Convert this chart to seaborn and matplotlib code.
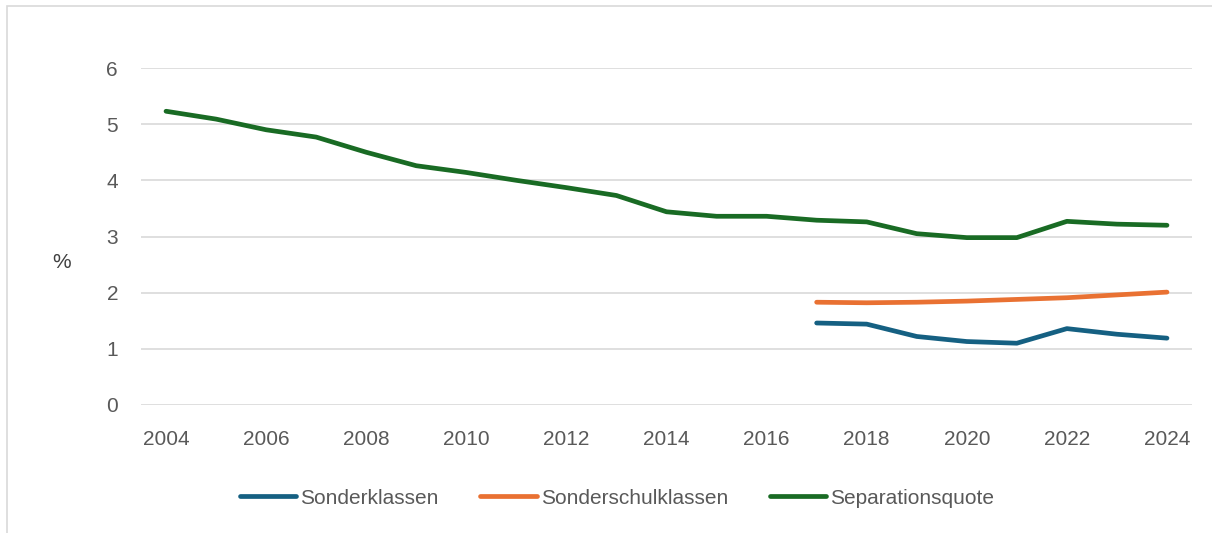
import matplotlib
matplotlib.use("Agg")
import matplotlib.pyplot as plt
import seaborn as sns
import pandas as pd
from matplotlib.patches import Rectangle
from matplotlib.lines import Line2D

years_sep = list(range(2004, 2025))
separationsquote = [5.23, 5.09, 4.90, 4.77, 4.50, 4.26, 4.14, 4.00, 3.87, 3.73, 3.44,
                    3.36, 3.36, 3.29, 3.26, 3.05, 2.98, 2.98, 3.27, 3.22, 3.20]
years_sub = list(range(2017, 2025))
sonderschulklassen = [1.83, 1.82, 1.83, 1.85, 1.88, 1.91, 1.96, 2.01]
sonderklassen = [1.46, 1.44, 1.22, 1.13, 1.10, 1.36, 1.26, 1.19]

series_names = ["Sonderklassen", "Sonderschulklassen", "Separationsquote"]
colors = ["#156082", "#E97132", "#196B24"]
xtick_labels = [str(y) for y in range(2004, 2025, 2)]
yticks = [0, 1, 2, 3, 4, 5, 6]

df = pd.concat([
    pd.DataFrame({"Jahr": years_sub, "Wert": sonderklassen, "Reihe": series_names[0]}),
    pd.DataFrame({"Jahr": years_sub, "Wert": sonderschulklassen, "Reihe": series_names[1]}),
    pd.DataFrame({"Jahr": years_sep, "Wert": separationsquote, "Reihe": series_names[2]}),
])

sns.set_theme(style="white")
plt.rcParams["font.family"] = ["Liberation Sans", "DejaVu Sans"]

fig = plt.figure(figsize=(12.12, 5.33), dpi=100)
ax = fig.add_axes([141/1212, 1-405/533, (1192-141)/1212, (405-68)/533])

sns.lineplot(data=df, x="Jahr", y="Wert", hue="Reihe", hue_order=series_names,
             palette=colors, linewidth=3.4, ax=ax, legend=False,
             solid_capstyle="round", solid_joinstyle="round")

ax.set_xlim(2003.5, 2024.5)
ax.set_ylim(0, 6)
ax.set_xticks(list(range(2004, 2025, 2)))
ax.set_xticklabels(xtick_labels)
ax.set_yticks(yticks)
ax.set_yticklabels([str(v) for v in yticks])
ax.yaxis.grid(True, color="#D9D9D9", linewidth=1.2)
ax.set_axisbelow(True)
for s in ax.spines.values():
    s.set_visible(False)
ax.tick_params(axis="both", length=0, labelsize=15, labelcolor="#595959")
ax.tick_params(axis="y", pad=16.5)
ax.tick_params(axis="x", pad=18)
ax.set_xlabel("")
ax.set_ylabel("")
fig.text(62/1212, 1-262/533, "%", fontsize=15, color="#404040", ha="center", va="center")

handles = [Line2D([0], [0], color=c, linewidth=3.4, solid_capstyle="round") for c in colors]
fig.legend(handles, series_names, loc="center", bbox_to_anchor=(617/1212, 1-498/533),
           ncol=3, frameon=False, handlelength=2.7, handletextpad=0.2,
           columnspacing=2.0, labelcolor="#595959",
           prop={"family": ["Liberation Sans", "DejaVu Sans"], "size": 15})

fig.patches.append(Rectangle((7/1212, -0.05), 1.2, 1-6/533+0.05, transform=fig.transFigure,
                             fill=False, edgecolor="#D9D9D9", linewidth=1.2))

fig.savefig("out.png", dpi=100)
